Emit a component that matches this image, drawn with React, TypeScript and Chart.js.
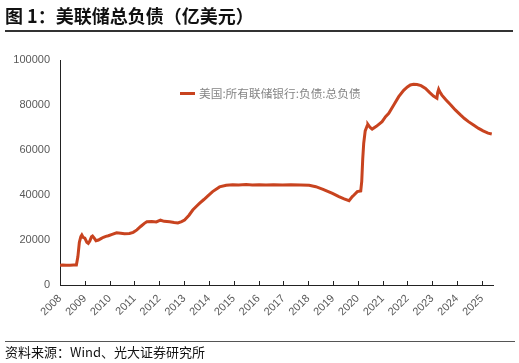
import React, { useEffect, useRef } from "react";
import { Chart, registerables } from "chart.js";

Chart.register(...registerables);

const titleText = "图 1：美联储总负债（亿美元）";
const sourceText = "资料来源：Wind、光大证券研究所";
const seriesLabel = "美国:所有联储银行:负债:总负债";

const dates = [
  2008.0, 2008.1, 2008.25, 2008.4, 2008.55, 2008.66, 2008.72, 2008.78, 2008.84, 2008.88,
  2008.93, 2009.0, 2009.08, 2009.14, 2009.2, 2009.27, 2009.31, 2009.38, 2009.45, 2009.55,
  2009.65, 2009.75, 2009.85, 2009.95, 2010.1, 2010.28, 2010.45, 2010.6, 2010.8, 2010.95,
  2011.1, 2011.25, 2011.4, 2011.5, 2011.7, 2011.88, 2012.05, 2012.2, 2012.42, 2012.6,
  2012.75, 2012.9, 2013.02, 2013.2, 2013.35, 2013.5, 2013.62, 2013.8, 2013.95, 2014.15,
  2014.43, 2014.7, 2014.96, 2015.2, 2015.5, 2015.75, 2016.03, 2016.3, 2016.6, 2016.97,
  2017.3, 2017.7, 2018.04, 2018.31, 2018.6, 2018.98, 2019.24, 2019.45, 2019.65, 2019.78,
  2019.85, 2019.98, 2020.12, 2020.16, 2020.2, 2020.24, 2020.3, 2020.38, 2020.41, 2020.5,
  2020.58, 2020.75, 2020.98, 2021.12, 2021.25, 2021.45, 2021.65, 2021.85, 2022.0, 2022.12,
  2022.25, 2022.39, 2022.55, 2022.73, 2022.9, 2023.05, 2023.19, 2023.22, 2023.26, 2023.3,
  2023.39, 2023.55, 2023.75, 2023.93, 2024.15, 2024.3, 2024.46, 2024.65, 2024.87, 2025.05,
  2025.25, 2025.4,
];

const liabilities = [
  8800, 8850, 8750, 8800, 8850, 8900, 12500, 19000, 21500, 22200,
  21200, 20800, 19000, 18500, 19500, 21500, 21800, 20800, 19700, 20000,
  20600, 21200, 21600, 21900, 22500, 23200, 23000, 22800, 22900, 23400,
  24500, 26000, 27400, 28100, 28200, 28000, 28800, 28300, 28100, 27800,
  27600, 28200, 28900, 31000, 33300, 35000, 36300, 38000, 39500, 41500,
  43600, 44300, 44600, 44500, 44700, 44500, 44600, 44400, 44600, 44400,
  44500, 44400, 44300, 43700, 42500, 40700, 39300, 38300, 37500, 39300,
  40000, 41500, 41800, 46000, 56000, 63000, 68500, 70800, 71400, 70000,
  69300, 70500, 72600, 74800, 76300, 80000, 83700, 86500, 88000, 88900,
  89200, 89100, 88600, 87400, 85500, 84000, 83000, 85500, 87000, 86000,
  84400, 82300, 80000, 77800, 75500, 74000, 72600, 71200, 69600, 68500,
  67500, 67100,
];

const yearTicks = [
  2008, 2009, 2010, 2011, 2012, 2013, 2014, 2015, 2016, 2017, 2018, 2019, 2020, 2021,
  2022, 2023, 2024, 2025,
];
const xMin = 2008;
const xMax = 2025.45;
const yMin = 0;
const yMax = 100000;
const yStep = 20000;

const lineColor = "#C8431F";
const tickColor = "#595959";

export default function App() {
  const ref = useRef<HTMLCanvasElement>(null);

  useEffect(() => {
    if (!ref.current) return;
    const innerTicks = {
      id: "innerTicks",
      afterDatasetsDraw(chart: any) {
        const { ctx, chartArea } = chart;
        const x = chart.scales.x;
        ctx.save();
        ctx.strokeStyle = "#222";
        ctx.lineWidth = 1;
        yearTicks.forEach((v) => {
          const px = Math.round(x.getPixelForValue(v)) + 0.5;
          ctx.beginPath();
          ctx.moveTo(px, chartArea.bottom);
          ctx.lineTo(px, chartArea.bottom - 4);
          ctx.stroke();
        });
        ctx.restore();
      },
    };

    const chart = new Chart(ref.current, {
      type: "line",
      data: {
        datasets: [
          {
            label: seriesLabel,
            data: dates.map((d, i) => ({ x: d, y: liabilities[i] })),
            borderColor: lineColor,
            backgroundColor: lineColor,
            borderWidth: 3,
            pointRadius: 0,
            tension: 0,
            fill: false,
          },
        ],
      },
      options: {
        responsive: false,
        animation: false,
        layout: { padding: { top: 60, right: 26, bottom: 38, left: 0 } },
        plugins: {
          tooltip: { enabled: false },
          legend: { display: false },
        },
        scales: {
          x: {
            type: "linear",
            min: xMin,
            max: xMax,
            grid: { display: false, drawTicks: false },
            border: { display: true, color: "#222", width: 1 },
            afterBuildTicks: (s: any) => {
              s.ticks = yearTicks.map((v) => ({ value: v }));
            },
            afterFit: (s: any) => {
              s.height = 40;
            },
            ticks: {
              color: tickColor,
              font: { family: "'Liberation Sans', Arial", size: 11 },
              minRotation: 45,
              maxRotation: 45,
              padding: 7,
              autoSkip: false,
              callback: (v: any) => String(v),
            },
          },
          y: {
            type: "linear",
            min: yMin,
            max: yMax,
            grid: { display: false, drawTicks: false },
            border: { display: true, color: "#222", width: 1 },
            afterFit: (s: any) => {
              s.width = 60;
            },
            ticks: {
              stepSize: yStep,
              color: tickColor,
              font: { family: "'Liberation Sans', Arial", size: 11 },
              padding: 10,
              callback: (v: any) => String(v),
            },
          },
        },
      },
      plugins: [innerTicks],
    } as any);
    return () => chart.destroy();
  }, []);

  return (
    <div
      style={{
        position: "absolute",
        left: 0,
        top: 0,
        width: 519,
        height: 363,
        background: "#fff",
        overflow: "hidden",
      }}
    >
      <canvas
        ref={ref}
        width={519}
        height={363}
        style={{ position: "absolute", left: 0, top: 0, width: 519, height: 363 }}
      />
      <div
        style={{
          position: "absolute",
          left: 5,
          top: 4,
          font: "bold 18px 'Noto Sans CJK SC'",
          lineHeight: "22px",
          color: "#111",
          whiteSpace: "nowrap",
        }}
      >
        {titleText}
      </div>
      <div
        style={{
          position: "absolute",
          left: 5,
          top: 30,
          width: 508,
          height: 2,
          background: "#333",
        }}
      />
      <div
        style={{
          position: "absolute",
          left: 180,
          top: 92,
          width: 15,
          height: 3,
          background: lineColor,
        }}
      />
      <div
        style={{
          position: "absolute",
          left: 199,
          top: 85,
          font: "11.7px 'Noto Sans CJK SC'",
          lineHeight: "16px",
          color: "#858585",
          whiteSpace: "nowrap",
        }}
      >
        {seriesLabel}
      </div>
      <div
        style={{
          position: "absolute",
          left: 5,
          top: 341,
          width: 510,
          height: 1,
          background: "#555",
        }}
      />
      <div
        style={{
          position: "absolute",
          left: 5,
          top: 344,
          font: "13px 'Noto Sans CJK SC'",
          lineHeight: "16px",
          color: "#111",
          whiteSpace: "nowrap",
        }}
      >
        {sourceText}
      </div>
    </div>
  );
}
